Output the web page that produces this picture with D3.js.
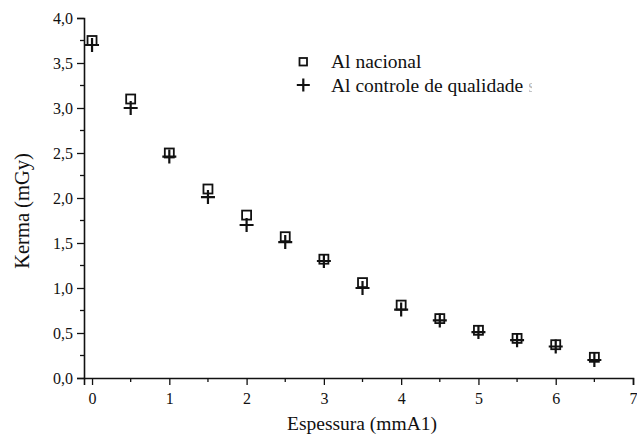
<!DOCTYPE html>
<html>
<head>
<meta charset="utf-8">
<script src="https://cdn.jsdelivr.net/npm/d3@7"></script>
<style>
  body { margin: 0; background: #fff; }
</style>
</head>
<body>
<div id="chart"></div>
<script>
// Data
const espessura = [0, 0.5, 1, 1.5, 2, 2.5, 3, 3.5, 4, 4.5, 5, 5.5, 6, 6.5];
const alNacional = [3.75, 3.10, 2.50, 2.10, 1.81, 1.57, 1.32, 1.06, 0.81, 0.66, 0.53, 0.44, 0.37, 0.23];
const alControle = [3.70, 3.00, 2.46, 2.01, 1.70, 1.51, 1.30, 1.00, 0.76, 0.64, 0.51, 0.42, 0.35, 0.20];
const xTicks = [0, 1, 2, 3, 4, 5, 6, 7];
const yTicks = [0, 0.5, 1, 1.5, 2, 2.5, 3, 3.5, 4];
const seriesNames = ['Al nacional', 'Al controle de qualidade'];

const width = 637;
const height = 437;
const margin = { top: 18, right: 4, bottom: 59, left: 84 };
const serif = 'Liberation Serif';
const ink = '#111';

const svg = d3.select('#chart')
  .append('svg')
  .attr('width', width)
  .attr('height', height)
  .attr('font-family', serif);

const x = d3.scaleLinear()
  .domain([-0.104, 7])
  .range([margin.left, width - margin.right]);
const y = d3.scaleLinear()
  .domain([0, 4])
  .range([height - margin.bottom, margin.top]);

const comma = v => d3.format('.1f')(v).replace('.', ',');

// x axis
const gx = svg.append('g')
  .attr('transform', `translate(0,${y(0)})`)
  .call(d3.axisBottom(x).tickValues(xTicks).tickSize(7).tickPadding(8).tickFormat(d3.format('d')));
gx.append('g')
  .selectAll('line')
  .data(xTicks.slice(0, -1).map(d => d + 0.5))
  .enter().append('line')
  .attr('x1', d => x(d)).attr('x2', d => x(d))
  .attr('y1', 0).attr('y2', 4)
  .attr('stroke', ink).attr('stroke-width', 1.3);

// y axis
const gy = svg.append('g')
  .attr('transform', `translate(${margin.left},0)`)
  .call(d3.axisLeft(y).tickValues(yTicks).tickSize(7).tickPadding(4).tickFormat(comma));
gy.append('g')
  .selectAll('line')
  .data(yTicks.slice(0, -1).map(d => d + 0.25))
  .enter().append('line')
  .attr('y1', d => y(d)).attr('y2', d => y(d))
  .attr('x1', 0).attr('x2', -4)
  .attr('stroke', ink).attr('stroke-width', 1.3);

gx.attr('font-family', serif).attr('font-size', 16);
gy.attr('font-family', serif).attr('font-size', 16);
svg.selectAll('.domain').attr('stroke', ink).attr('stroke-width', 1.6);
svg.selectAll('.tick line').attr('stroke', ink).attr('stroke-width', 1.3);
svg.selectAll('.tick text')
  .attr('font-family', serif)
  .attr('font-size', 16)
  .attr('fill', ink);

// axis titles
svg.append('text')
  .attr('x', 362)
  .attr('y', 430)
  .attr('text-anchor', 'middle')
  .attr('font-family', serif)
  .attr('font-size', 19.5)
  .attr('fill', ink)
  .text('Espessura (mmA1)');

svg.append('text')
  .attr('transform', 'rotate(-90)')
  .attr('x', -211)
  .attr('y', 29)
  .attr('text-anchor', 'middle')
  .attr('font-family', serif)
  .attr('font-size', 20.5)
  .attr('fill', ink)
  .text('Kerma (mGy)');

// markers
function plusPath(cx, cy, s) {
  return `M${cx - s},${cy}H${cx + s}M${cx},${cy - s}V${cy + s}`;
}

const sq = 9;
svg.selectAll('.sq')
  .data(espessura.map((d, i) => [d, alNacional[i]]))
  .enter().append('rect')
  .attr('class', 'sq')
  .attr('x', d => x(d[0]) - sq / 2)
  .attr('y', d => y(d[1]) - sq / 2)
  .attr('width', sq)
  .attr('height', sq)
  .attr('fill', 'none')
  .attr('stroke', ink)
  .attr('stroke-width', 1.8);

svg.selectAll('.pl')
  .data(espessura.map((d, i) => [d, alControle[i]]))
  .enter().append('path')
  .attr('class', 'pl')
  .attr('d', d => plusPath(x(d[0]), y(d[1]), 7))
  .attr('fill', 'none')
  .attr('stroke', ink)
  .attr('stroke-width', 2.2);

// legend
const lg = svg.append('g');
lg.append('rect')
  .attr('x', 299.5).attr('y', 58).attr('width', 7.5).attr('height', 7.5)
  .attr('fill', 'none').attr('stroke', ink).attr('stroke-width', 1.8);
lg.append('path')
  .attr('d', plusPath(303.3, 85, 6.5))
  .attr('stroke', ink).attr('stroke-width', 2.2);
lg.selectAll('.lt')
  .data(seriesNames)
  .enter().append('text')
  .attr('class', 'lt')
  .attr('x', 331)
  .attr('y', (d, i) => 67.5 + i * 24)
  .attr('font-family', serif)
  .attr('font-size', 19.5)
  .attr('fill', ink)
  .text(d => d);

// clipped remnant of a character after the legend text
svg.append('clipPath').attr('id', 'cut')
  .append('rect').attr('x', 529).attr('y', 70).attr('width', 3).attr('height', 30);
svg.append('text')
  .attr('x', 528)
  .attr('y', 91.5)
  .attr('clip-path', 'url(#cut)')
  .attr('font-family', serif)
  .attr('font-size', 19.5)
  .attr('fill', '#bbb')
  .text('s');
</script>
</body>
</html>
